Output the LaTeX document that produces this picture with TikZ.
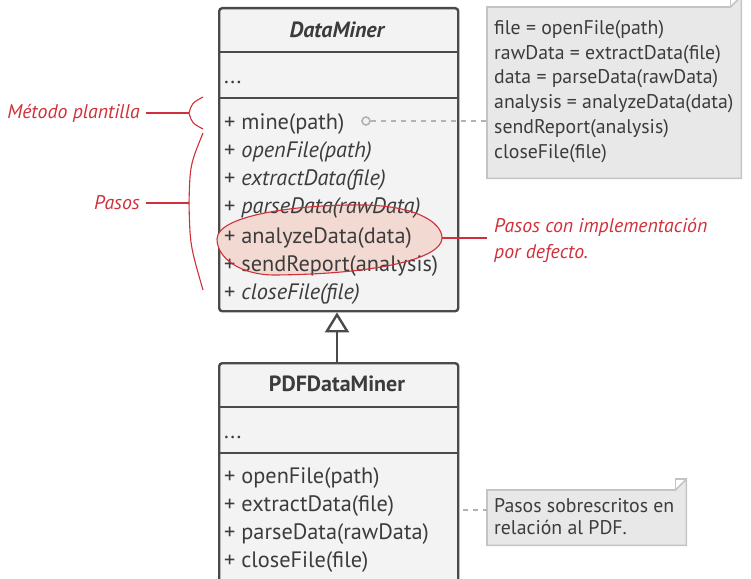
\documentclass[tikz,border=0pt]{standalone}
\usepackage{fontspec}
\setmainfont{PT Sans}
\usetikzlibrary{arrows.meta,shapes.geometric}
\definecolor{boxfill}{HTML}{F3F3F3}
\definecolor{boxline}{HTML}{4A4A4A}
\definecolor{txt}{HTML}{3C3C3C}
\definecolor{redc}{HTML}{D0303A}
\definecolor{notefill}{HTML}{E8E8E8}
\definecolor{noteline}{HTML}{C4C4C4}
\definecolor{pinkfill}{HTML}{F2DAD3}
\begin{document}
\begin{tikzpicture}[x=1pt,y=-1pt,
  classbox/.style={draw=boxline, fill=boxfill, line width=2.4pt, rounded corners=3pt, anchor=north west, inner sep=0},
  mtext/.style={anchor=base west, inner sep=0, text=txt, font=\fontsize{22.3}{26}\selectfont},
  ntext/.style={anchor=north west, inner sep=0, text=txt, align=left, font=\fontsize{19.8}{24.8}\selectfont},
  rtext/.style={inner sep=0, text=redc, font=\fontsize{19.8}{26}\selectfont\itshape},
  redline/.style={draw=redc, line width=1.1pt},
  notebox/.style={fill=notefill, draw=noteline, line width=1.6pt},
  conn/.style={draw=black!30, line width=1.6pt, dash pattern=on 5pt off 5pt}
]
\useasboundingbox (0,0) rectangle (751,578);

% ---- DataMiner
\node[classbox, minimum width=239pt, minimum height=303pt] (dm) at (218,7) {};
\draw[boxline, line width=2.4pt] (218,52) -- (457,52) (218,98) -- (457,98);
\node[inner sep=0, text=txt, font=\fontsize{22}{24}\selectfont\bfseries\itshape] (dmt) at (337,30) {DataMiner};
\node[mtext] (dma) at (224,83) {...};

% ellipse fill
\def\ellpath{(217,239) .. controls (217,215) and (300,204) .. (365,205) .. controls (415,206) and (442,222) .. (442,238) .. controls (442,258) and (380,274) .. (275,275) .. controls (240,275) and (217,258) .. (217,239) -- cycle}
\fill[pinkfill] \ellpath;

\node[mtext] (m1) at (224,129) {+ mine(path)};
\node[mtext] (m2) at (224,157) {+ \textit{openFile(path)}};
\node[mtext] (m3) at (224,185) {+ \textit{extractData(file)}};
\node[mtext] (m4) at (224,213) {+ \textit{parseData(rawData)}};
\node[mtext] (m5) at (224,243) {+ analyzeData(data)};
\node[mtext] (m6) at (224,271) {+ sendReport(analysis)};
\node[mtext] (m7) at (224,299) {+ \textit{closeFile(file)}};

\draw[redc, line width=1.1pt] \ellpath;
\coordinate (ell) at (442,238);

% ---- PDFDataMiner
\node[classbox, minimum width=239pt, minimum height=230pt] (pdf) at (218,362) {};
\draw[boxline, line width=2.4pt] (218,407) -- (457,407) (218,453) -- (457,453);
\node[inner sep=0, text=txt, font=\fontsize{22}{24}\selectfont\bfseries] (pdft) at (337,384) {PDFDataMiner};
\node[mtext] (pa) at (224,438) {...};
\node[mtext] (p1) at (224,483) {+ openFile(path)};
\node[mtext] (p2) at (224,511) {+ extractData(file)};
\node[mtext] (p3) at (224,539) {+ parseData(rawData)};
\node[mtext] (p4) at (224,567) {+ closeFile(file)};

% inheritance
\draw[boxline, line width=2.4pt, -{Triangle[open, length=20pt, width=24pt, line width=2.4pt]}] (pdf.north -| dmt) -- (dm.south -| dmt);

% ---- note 1
\node[inner sep=0, minimum width=254pt, minimum height=171pt, anchor=north west] (n1) at (487,7) {};
\draw[notebox] (n1.north west) -- ([xshift=-11pt]n1.north east) -- ([yshift=11pt]n1.north east) -- (n1.south east) -- (n1.south west) -- cycle;
\draw[noteline, line width=1.6pt] ([xshift=-11pt]n1.north east) -- ([xshift=-11pt,yshift=11pt]n1.north east) -- ([yshift=11pt]n1.north east);
\node[ntext] (n1t) at (494,20) {file = openFile(path)\\rawData = extractData(file)\\data = parseData(rawData)\\analysis = analyzeData(data)\\sendReport(analysis)\\closeFile(file)};

\node[circle, draw=black!30, line width=1.6pt, minimum size=8pt, inner sep=0] (c1) at (366,121) {};
\draw[conn] (c1.east) -- (c1 -| n1.west);

% ---- note 2
\node[inner sep=0, minimum width=199pt, minimum height=55pt, anchor=north west] (n2) at (487,490) {};
\draw[notebox] (n2.north west) -- ([xshift=-11pt]n2.north east) -- ([yshift=11pt]n2.north east) -- (n2.south east) -- (n2.south west) -- cycle;
\draw[noteline, line width=1.6pt] ([xshift=-11pt]n2.north east) -- ([xshift=-11pt,yshift=11pt]n2.north east) -- ([yshift=11pt]n2.north east);
\node[ntext, font=\fontsize{19.8}{22}\selectfont] (n2t) at (494,498) {Pasos sobrescritos en\\relación al PDF.};
\coordinate (c2) at (463,510);
\draw[conn] (c2) -- (c2 -| n2.west);

% ---- red annotations
\node[rtext, anchor=east] (mp) at (140,113) {Método plantilla};
\coordinate (b1) at (189,113);
\draw[redline] (mp.east) ++(6,0) -- (b1);
\draw[redline] (203,97) .. controls (192,103) .. (b1) .. controls (192,123) .. (203,129);

\node[rtext, anchor=east] (ps) at (140,203) {Pasos};
\coordinate (b2) at (189,203);
\draw[redline] (ps.east) ++(6,0) -- (b2);
\draw[redline] (203,133) .. controls (190,165) .. (b2) .. controls (190,245) .. (203,290);

\node[rtext, anchor=north west, align=left] (pd) at (494,218) {Pasos con implementación\\por defecto.};
\draw[redline] (ell) -- (487,238);
\end{tikzpicture}
\end{document}
